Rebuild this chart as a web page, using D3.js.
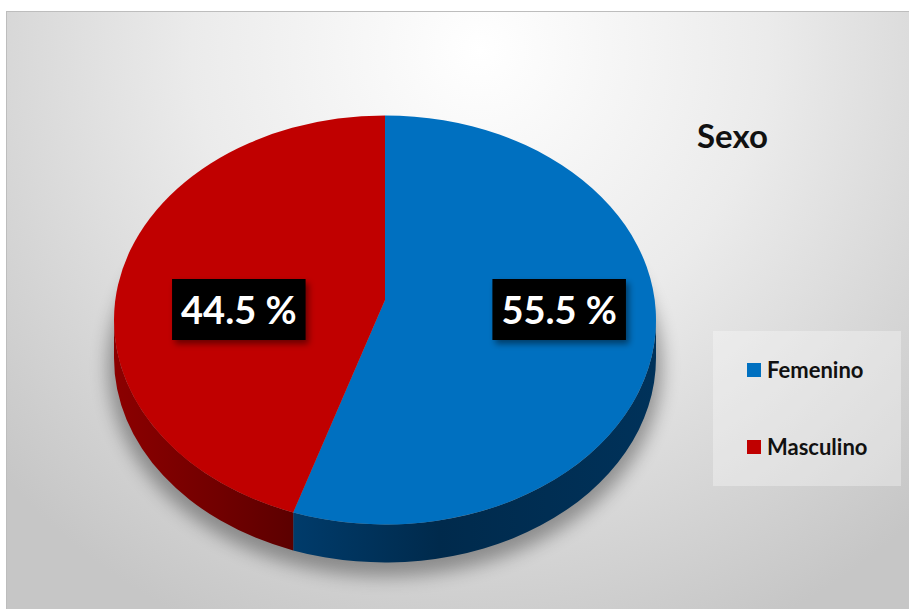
<!DOCTYPE html>
<html>
<head>
<meta charset="utf-8">
<script src="https://cdn.jsdelivr.net/npm/d3@7"></script>
<style>
  html, body { margin: 0; padding: 0; background: #fff; }
  #chart-pie { width: 909px; height: 609px; }
</style>
</head>
<body>
<div id="chart-pie"></div>
<script>
// ── Data ─────────────────────────────────────
const categories  = ["Femenino", "Masculino"];
const values      = [55.5, 44.5];
const labels      = ["55.5 %", "44.5 %"];
const topColors   = ["#0070c0", "#c00000"];
const sideColors  = [["#003c6c", "#002a4c", "#00325a"], ["#8c0000", "#700000", "#5c0000"]];
const chartTitle  = "Sexo";

(function () {
  const W = 909, H = 609;
  const FONT = "Lato, 'Open Sans', sans-serif";

  // pie geometry (projected ellipse)
  const cx = 385, cy = 320, rx = 271, ry = 204.5, depth = 38;
  const apex = { x: 385, y: 300 };

  const svg = d3.select("#chart-pie").append("svg")
    .attr("width", W).attr("height", H);
  const defs = svg.append("defs");

  // ── Background ───────────────────────────────
  const bg = defs.append("radialGradient").attr("id", "bg")
    .attr("gradientUnits", "userSpaceOnUse")
    .attr("cx", 480).attr("cy", 50).attr("r", 640);
  bg.append("stop").attr("offset", 0).attr("stop-color", "#ffffff");
  bg.append("stop").attr("offset", 0.45).attr("stop-color", "#ebebeb");
  bg.append("stop").attr("offset", 1).attr("stop-color", "#c6c6c6");

  svg.append("rect").attr("x", 6.5).attr("y", 11.5)
    .attr("width", W).attr("height", H)
    .attr("fill", "url(#bg)").attr("stroke", "#bdbdbd");

  // ── Shadow under the pie ─────────────────────
  const blur = defs.append("filter").attr("id", "pieShadow")
    .attr("x", "-30%").attr("y", "-30%").attr("width", "160%").attr("height", "160%");
  blur.append("feGaussianBlur").attr("stdDeviation", 9);

  svg.append("ellipse")
    .attr("cx", cx).attr("cy", cy + depth + 8)
    .attr("rx", rx + 6).attr("ry", ry + 6)
    .attr("fill", "#000").attr("opacity", 0.34)
    .attr("filter", "url(#pieShadow)");

  // ── Pie angles ───────────────────────────────
  const pie = d3.pie().sort(null).value(d => d.value)
    .startAngle(0).endAngle(2 * Math.PI);
  const arcs = pie(categories.map((c, i) => ({ name: c, value: values[i], i })));

  const pt = (a, dy = 0) => [cx + rx * Math.sin(a), cy - ry * Math.cos(a) + dy];

  // side gradients
  arcs.forEach((d, i) => {
    const g = defs.append("linearGradient").attr("id", "side" + i)
      .attr("gradientUnits", "userSpaceOnUse")
      .attr("x1", cx - rx).attr("x2", cx + rx).attr("y1", 0).attr("y2", 0);
    const s = sideColors[i];
    if (i === 0) {
      g.append("stop").attr("offset", 0.32).attr("stop-color", s[0]);
      g.append("stop").attr("offset", 0.6).attr("stop-color", s[1]);
      g.append("stop").attr("offset", 1).attr("stop-color", s[2]);
    } else {
      g.append("stop").attr("offset", 0).attr("stop-color", s[0]);
      g.append("stop").attr("offset", 0.2).attr("stop-color", s[1]);
      g.append("stop").attr("offset", 0.33).attr("stop-color", s[2]);
    }
  });

  // ── Sides (front half only) ──────────────────
  const lo = Math.PI / 2, hi = 3 * Math.PI / 2;
  svg.append("g").selectAll("path")
    .data(arcs.filter(d => d.endAngle > lo && d.startAngle < hi))
    .join("path")
    .attr("d", d => {
      const s = Math.max(d.startAngle, lo), e = Math.min(d.endAngle, hi);
      const p0 = pt(s), p1 = pt(e), q1 = pt(e, depth), q0 = pt(s, depth);
      return `M${p0}A${rx},${ry} 0 0 1 ${p1}L${q1}A${rx},${ry} 0 0 0 ${q0}Z`;
    })
    .attr("fill", d => `url(#side${d.data.i})`);

  // ── Tops ─────────────────────────────────────
  svg.append("g").selectAll("path").data(arcs).join("path")
    .attr("d", d => {
      const p0 = pt(d.startAngle), p1 = pt(d.endAngle);
      const large = d.endAngle - d.startAngle > Math.PI ? 1 : 0;
      return `M${apex.x},${apex.y}L${p0}A${rx},${ry} 0 ${large} 1 ${p1}Z`;
    })
    .attr("fill", d => topColors[d.data.i]);

  // ── Data labels ──────────────────────────────
  const lblShadow = defs.append("filter").attr("id", "lblShadow")
    .attr("x", "-20%").attr("y", "-20%").attr("width", "150%").attr("height", "150%");
  lblShadow.append("feDropShadow").attr("dx", 3).attr("dy", 4)
    .attr("stdDeviation", 3).attr("flood-color", "#000").attr("flood-opacity", 0.45);

  const lblG = svg.append("g").selectAll("g").data(arcs).join("g")
    .attr("transform", d => {
      const m = (d.startAngle + d.endAngle) / 2;
      return `translate(${cx + 14 + 0.6 * rx * Math.sin(m)},${apex.y + 10})`;
    });
  lblG.append("rect").attr("fill", "#000").attr("filter", "url(#lblShadow)");
  lblG.append("text")
    .attr("text-anchor", "middle").attr("dy", "0.36em")
    .attr("font-family", FONT).attr("font-weight", "bold")
    .attr("font-size", "38px").attr("fill", "#fff")
    .text(d => labels[d.data.i]);
  lblG.each(function () {
    const t = d3.select(this).select("text").node().getBBox();
    d3.select(this).select("rect")
      .attr("x", t.x - 9).attr("width", t.width + 18)
      .attr("y", -31).attr("height", 61);
  });

  // ── Title ────────────────────────────────────
  svg.append("text").attr("x", 697).attr("y", 148)
    .attr("font-family", FONT).attr("font-weight", "bold")
    .attr("font-size", "33px").attr("fill", "#111")
    .text(chartTitle);

  // ── Legend ───────────────────────────────────
  const leg = svg.append("g").attr("transform", "translate(713,331)");
  leg.append("rect").attr("width", 188).attr("height", 155)
    .attr("fill", "#ffffff").attr("opacity", 0.32);
  const yLeg = d3.scalePoint().domain(categories).range([39, 116]);
  const items = leg.selectAll("g.item").data(categories).join("g")
    .attr("class", "item")
    .attr("transform", d => `translate(34,${yLeg(d)})`);
  items.append("rect").attr("y", -7).attr("width", 14).attr("height", 14)
    .attr("fill", (d, i) => topColors[i]);
  items.append("text").attr("x", 20).attr("dy", "0.36em")
    .attr("font-family", FONT).attr("font-weight", "bold")
    .attr("font-size", "22px").attr("fill", "#111")
    .text(d => d);
})();
</script>
</body>
</html>
